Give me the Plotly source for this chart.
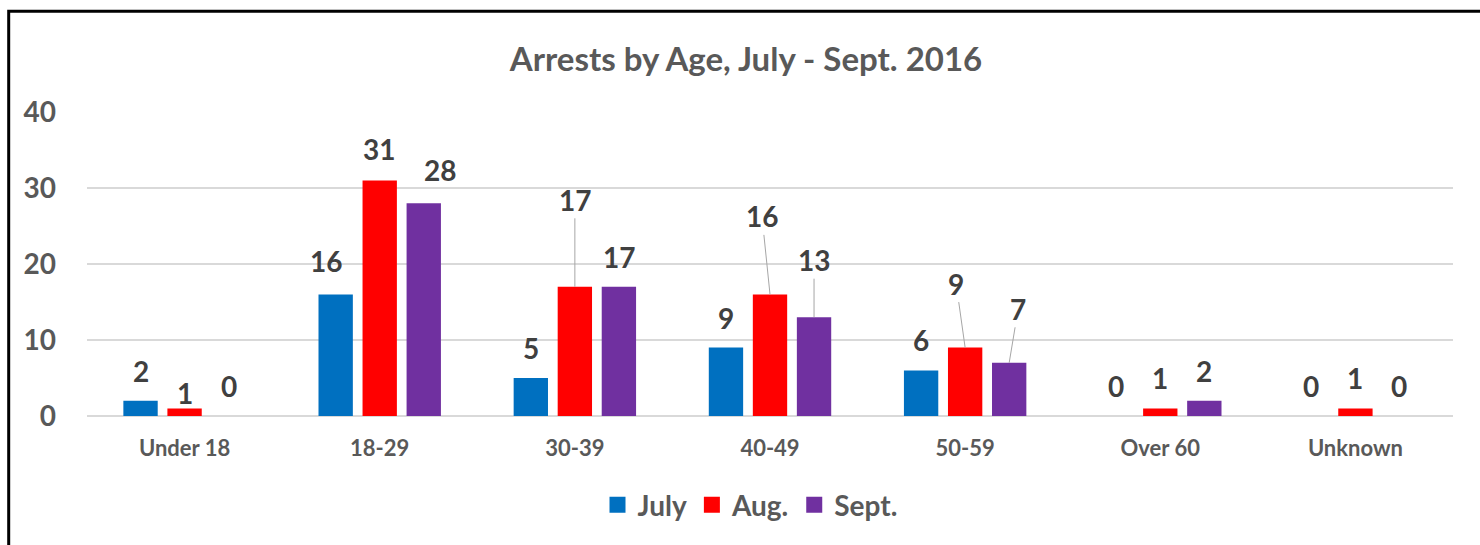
import plotly.graph_objects as go

# Arrests by age group for each month of the quarter
age_groups = ["Under 18", "18-29", "30-39", "40-49", "50-59", "Over 60", "Unknown"]
months = ["July", "Aug.", "Sept."]
july = [2, 16, 5, 9, 6, 0, 0]
aug = [1, 31, 17, 16, 9, 1, 1]
sept = [0, 28, 17, 13, 7, 2, 0]
month_colors = ["#0070C0", "#FF0000", "#7030A0"]
y_ticks = [0, 10, 20, 30, 40]

series = [july, aug, sept]

# Label placement tweaks (pixels): (dx, dy) of the label centre above the bar top,
# and whether a leader line connects the label to its bar.
label_offsets = {
    (0, 1): (0, -15, False),
    (1, 0): (-10, -33, False),
    (1, 1): (-1, -31, False),
    (1, 2): (16, -33, False),
    (2, 1): (0, -87, True),
    (3, 1): (-8, -78, True),
    (3, 2): (0, -57, True),
    (4, 1): (-9, -64, True),
    (4, 2): (9, -54, True),
}

FONT = "Lato"
LABEL_GREY = "#404040"
AXIS_GREY = "#595959"
GRID = "#d9d9d9"

BARGAP = 0.323
GROUPGAP = 0.22

fig = go.Figure()
for name, vals, col in zip(months, series, month_colors):
    fig.add_trace(go.Bar(
        x=age_groups, y=vals, name=name, marker_color=col,
        marker_line_width=0, showlegend=False, hoverinfo="x+y+name",
    ))
# Legend swatches
for name, col in zip(months, month_colors):
    fig.add_trace(go.Scatter(
        x=[None], y=[None], mode="markers", name=name,
        marker=dict(symbol="square", size=18, color=col),
    ))

# Value labels, positioned relative to each bar's centre and top
slot = (1 - BARGAP) / len(series)
annotations = []
for si, vals in enumerate(series):
    for ci, v in enumerate(vals):
        xc = ci + (si - (len(series) - 1) / 2) * slot
        dx, dy, leader = label_offsets.get((ci, si), (0, -30, False))
        common = dict(
            x=xc, y=v, xref="x", yref="y", text=str(v),
            font=dict(family=FONT, size=28, color=LABEL_GREY, weight="bold"),
            xanchor="center", yanchor="middle",
        )
        if leader:
            annotations.append(dict(
                **common, showarrow=True, arrowhead=0, arrowwidth=1,
                arrowcolor="#a6a6a6", ax=dx, ay=dy, standoff=0,
            ))
        else:
            annotations.append(dict(**common, showarrow=False, xshift=dx, yshift=-dy))

W, H = 1480, 545
ML, MR, MT, MB = 87, 27, 112, 129
pw = W - ML - MR
ph = H - MT - MB


def px_x(p):
    return (p - ML) / pw


def px_y(p):
    return (H - MB - p) / ph


fig.update_layout(
    width=W, height=H,
    margin=dict(l=ML, r=MR, t=MT, b=MB),
    paper_bgcolor="white", plot_bgcolor="white",
    barmode="group", bargap=BARGAP, bargroupgap=GROUPGAP,
    title=dict(
        text="Arrests by Age, July - Sept. 2016",
        x=746 / W, xref="container", xanchor="center",
        y=1 - 59 / H, yref="container", yanchor="middle",
        font=dict(family=FONT, size=33, color=AXIS_GREY, weight="bold"),
    ),
    xaxis=dict(
        type="category", showgrid=False, showline=False, ticks="",
        tickfont=dict(family=FONT, size=22, color=AXIS_GREY, weight="bold"),
        ticklabelstandoff=17, fixedrange=True,
    ),
    yaxis=dict(
        range=[0, 40], tickvals=y_ticks, showgrid=True, gridcolor=GRID, gridwidth=1.5,
        zeroline=True, zerolinecolor=GRID, zerolinewidth=1.5, showline=False, ticks="",
        tickfont=dict(family=FONT, size=28, color=AXIS_GREY, weight="bold"),
        ticklabelstandoff=30, fixedrange=True,
    ),
    legend=dict(
        orientation="h", xref="container", x=750 / W, xanchor="center",
        yref="container", y=1 - 505 / H, yanchor="middle",
        font=dict(family=FONT, size=28, color=AXIS_GREY, weight="bold"),
        itemsizing="trace", bgcolor="rgba(0,0,0,0)",
    ),
    annotations=annotations,
    shapes=[dict(
        type="rect", xref="paper", yref="paper",
        x0=px_x(8.7), x1=px_x(W + 20), y0=px_y(H + 20), y1=px_y(11.3),
        line=dict(color="black", width=3), fillcolor="rgba(0,0,0,0)", layer="above",
    )],
)

fig.write_html("out.html", config={"displayModeBar": False})
